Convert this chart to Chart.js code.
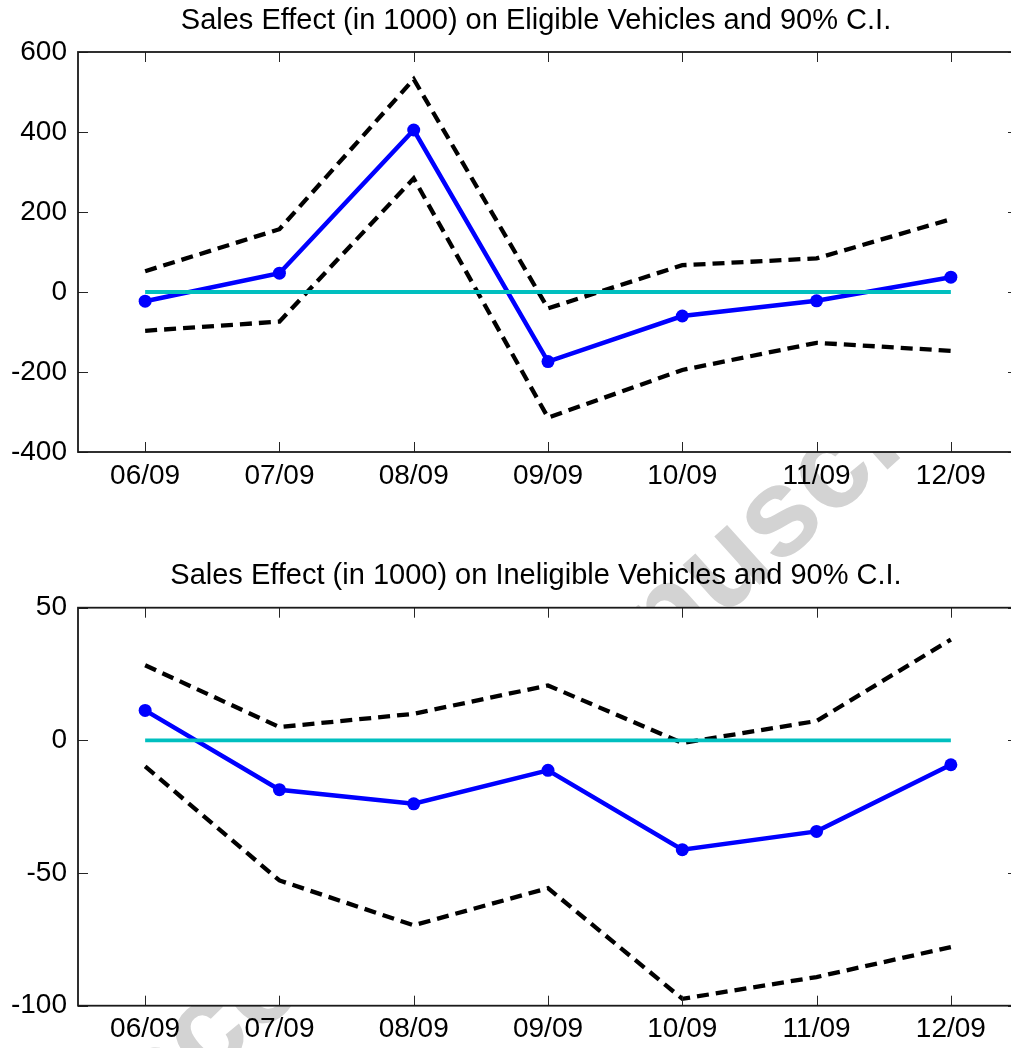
<!DOCTYPE html>
<html>
<head>
<meta charset="utf-8">
<script src="https://cdn.jsdelivr.net/npm/chart.js@4/dist/chart.umd.min.js"></script>
<style>
  html, body { margin: 0; padding: 0; background: #fff; overflow: hidden; }
  #page { position: relative; width: 1072px; height: 1048px; overflow: hidden; }
  #wm { position: absolute; left: 86px; top: 1191px; width: 0; height: 0; transform: rotate(-42deg); transform-origin: 0 0; }
  #wm span { position: absolute; left: 0; top: -106px; font: bold 125px 'Liberation Sans', Arial, sans-serif; line-height: 125px; color: #d3d3d3; white-space: nowrap; }
  canvas { position: absolute; left: 0; }
  #chart-eligible { top: 0; }
  #chart-ineligible { top: 540px; }
</style>
</head>
<body>
<div id="page">
  <div id="wm"><span>Accepted manuscript</span></div>
  <canvas id="chart-eligible" width="1072" height="500"></canvas>
  <canvas id="chart-ineligible" width="1072" height="508"></canvas>
</div>
<script>
const months = ['06/09', '07/09', '08/09', '09/09', '10/09', '11/09', '12/09'];

const eligibleEffect = [-23, 47, 405, -174, -60, -22, 37];
const eligibleUpper = [52, 157, 532, -41, 67, 84, 182];
const eligibleLower = [-97, -74, 284, -314, -195, -127, -147];
const eligibleTicks = [-400, 600, 200];

const ineligibleEffect = [11.3, -18.6, -23.9, -11.3, -41.2, -34.3, -9.2];
const ineligibleUpper = [28.3, 5, 10, 20.7, -1, 7.3, 38];
const ineligibleLower = [-9.8, -52.8, -69.7, -55.7, -97.4, -89.2, -77.9];
const ineligibleTicks = [-100, 50, 50];

const zeroLine = [0, 0, 0, 0, 0, 0, 0];

const FONT = "'Liberation Sans', Arial, Helvetica, sans-serif";

// white plot box, frame and inward tick marks like matlab axes
const axesBox = {
  id: 'axesBox',
  beforeDraw(chart) {
    const { ctx, chartArea: a } = chart;
    ctx.save();
    ctx.fillStyle = '#fff';
    ctx.fillRect(a.left, a.top, a.right - a.left, a.bottom - a.top);
    ctx.restore();
  },
  afterDraw(chart) {
    const { ctx, chartArea: a } = chart;
    const xs = chart.scales.x;
    const ys = chart.scales.y;
    const len = 10;
    ctx.save();
    ctx.strokeStyle = '#262626';
    ctx.lineWidth = 1;
    ctx.beginPath();
    xs.ticks.forEach((t, i) => {
      const x = Math.round(xs.getPixelForTick(i)) + 0.5;
      ctx.moveTo(x, a.bottom); ctx.lineTo(x, a.bottom - len);
      ctx.moveTo(x, a.top); ctx.lineTo(x, a.top + len);
    });
    ys.ticks.forEach((t, i) => {
      const y = Math.round(ys.getPixelForTick(i)) + 0.5;
      ctx.moveTo(a.left, y); ctx.lineTo(a.left + len, y);
      ctx.moveTo(a.right, y); ctx.lineTo(a.right - len, y);
    });
    ctx.stroke();
    ctx.lineWidth = 1.8;
    ctx.strokeStyle = '#1a1a1a';
    ctx.strokeRect(a.left, a.top, a.right - a.left, a.bottom - a.top);
    ctx.restore();
  }
};

function makeChart(id, title, effect, upper, lower, yTicks, titlePad, xHeight) {
  return new Chart(document.getElementById(id), {
    type: 'line',
    data: {
      labels: months,
      datasets: [{
        label: 'upper',
        data: upper,
        borderColor: '#000',
        borderWidth: 4.3,
        borderDash: [12, 7],
        pointRadius: 0,
        order: 3
      }, {
        label: 'lower',
        data: lower,
        borderColor: '#000',
        borderWidth: 4.3,
        borderDash: [12, 7],
        pointRadius: 0,
        order: 3
      }, {
        label: 'effect',
        data: effect,
        borderColor: '#0000ff',
        backgroundColor: '#0000ff',
        borderWidth: 4.5,
        pointRadius: 6.5,
        pointBorderWidth: 0,
        order: 2
      }, {
        label: 'zero',
        data: zeroLine,
        borderColor: '#00bfbf',
        borderWidth: 3.8,
        pointRadius: 0,
        order: 1
      }]
    },
    options: {
      responsive: false,
      animation: false,
      devicePixelRatio: 1,
      layout: { padding: 0 },
      elements: { line: { tension: 0 } },
      plugins: {
        legend: { display: false },
        tooltip: { enabled: false },
        title: {
          display: true,
          text: title,
          color: '#000',
          font: { family: FONT, size: 29, weight: 'normal', lineHeight: 1.2 },
          padding: titlePad
        }
      },
      scales: {
        x: {
          offset: true,
          grid: { display: false, drawTicks: false, offset: false },
          border: { display: false },
          ticks: { color: '#000', padding: 7, maxRotation: 0, autoSkip: false, font: { family: FONT, size: 28 } },
          afterFit: (s) => { s.height = xHeight; }
        },
        y: {
          min: yTicks[0],
          max: yTicks[1],
          grid: { display: false, drawTicks: false },
          border: { display: false },
          ticks: { color: '#000', padding: 11, stepSize: yTicks[2], font: { family: FONT, size: 28 } },
          afterFit: (s) => { s.width = 78; }
        },
        // empty right box: keeps plot right edge at 1018 and title centred at 536
        yRight: {
          position: 'right',
          grid: { display: false, drawTicks: false },
          border: { display: false },
          ticks: { display: false },
          afterFit: (s) => { s.width = 54; }
        }
      }
    },
    plugins: [axesBox]
  });
}

makeChart('chart-eligible', 'Sales Effect (in 1000) on Eligible Vehicles and 90% C.I.',
  eligibleEffect, eligibleUpper, eligibleLower, eligibleTicks, { top: 3.5, bottom: 13.7 }, 48);

makeChart('chart-ineligible', 'Sales Effect (in 1000) on Ineligible Vehicles and 90% C.I.',
  ineligibleEffect, ineligibleUpper, ineligibleLower, ineligibleTicks, { top: 18.6, bottom: 14.3 }, 42.3);
</script>
</body>
</html>
